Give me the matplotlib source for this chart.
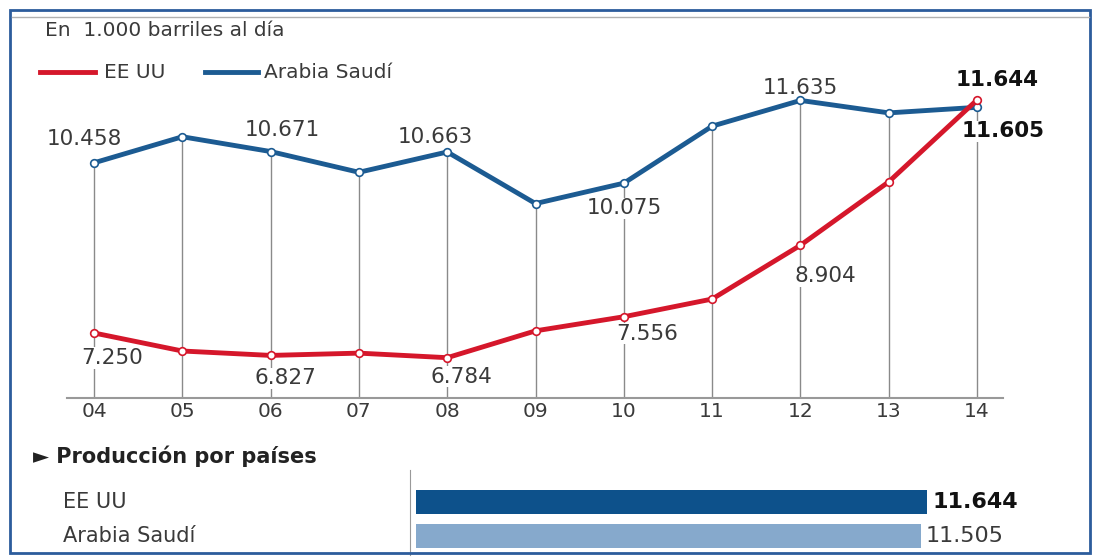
import matplotlib
matplotlib.use('Agg')
import matplotlib.pyplot as plt
from matplotlib.lines import Line2D
from matplotlib.patches import Rectangle

# Data (thousand barrels per day)
years = ['04', '05', '06', '07', '08', '09', '10', '11', '12', '13', '14']
saudi = [10.458, 10.95, 10.671, 10.28, 10.663, 9.69, 10.075, 11.15, 11.635, 11.40, 11.505]
usa = [7.250, 6.91, 6.827, 6.87, 6.784, 7.29, 7.556, 7.89, 8.904, 10.10, 11.644]
saudi_labels = {0: '10.458', 2: '10.671', 4: '10.663', 6: '10.075', 8: '11.635', 10: '11.605'}
usa_labels = {0: '7.250', 2: '6.827', 4: '6.784', 6: '7.556', 8: '8.904', 10: '11.644'}
countries = ['EE UU', 'Arabia Saudí']
country_values = [11.644, 11.505]
country_labels = ['11.644', '11.505']

# label offsets in pixels (dx, dy) from the point
saudi_off = {0: (-10, 24), 2: (12, 22), 4: (-12, 15), 6: (0, -25), 8: (0, 12), 10: (26, -24)}
usa_off = {0: (18, -25), 2: (15, -23), 4: (14, -19), 6: (23, -17), 8: (25, -31), 10: (20, 20)}

W, H = 1093, 560
RED = '#d5172b'
BLUE = '#1c5b92'
TXT = '#3a3a3a'
plt.rcParams['font.family'] = ['DejaVu Sans']


def fx(px):
    return px / W


def fy(py):
    return 1 - py / H


fig = plt.figure(figsize=(W / 100, H / 100), dpi=100)

# frame
fig.patches.append(Rectangle((fx(10), fy(553)), fx(1090) - fx(10), fy(10) - fy(553),
                             transform=fig.transFigure, fill=False, edgecolor='#2c5c9c', lw=2))
fig.lines.append(Line2D([fx(12), fx(1089)], [fy(17), fy(17)], transform=fig.transFigure,
                        color='#b0b0b0', lw=1))

# header + legend
fig.text(fx(45), fy(31), 'En  1.000 barriles al día', fontsize=14.5, color=TXT, va='center')
fig.lines.append(Line2D([fx(40), fx(95)], [fy(72), fy(72)], transform=fig.transFigure, color=RED, lw=3.5))
fig.text(fx(104), fy(72), 'EE UU', fontsize=14.5, color=TXT, va='center')
fig.lines.append(Line2D([fx(205), fx(258)], [fy(72), fy(72)], transform=fig.transFigure, color=BLUE, lw=3.5))
fig.text(fx(264), fy(72), 'Arabia Saudí', fontsize=14.5, color=TXT, va='center')

# line chart
ax = fig.add_axes([fx(67), fy(398), fx(1003) - fx(67), fy(80) - fy(398)])
x = list(range(len(years)))
ax.set_xlim(-0.306, 10.294)
ax.set_ylim(6.024, 12.02)
for i in x:
    ax.plot([i, i], [6.024, max(saudi[i], usa[i])], color='#8a8a8a', lw=1, zorder=1)
ax.plot(x, saudi, color=BLUE, lw=3.5, zorder=3, solid_capstyle='round',
        marker='o', ms=5.5, mfc='white', mec=BLUE, mew=1.2)
ax.plot(x, usa, color=RED, lw=3.5, zorder=4, solid_capstyle='round',
        marker='o', ms=5.5, mfc='white', mec=RED, mew=1.2)

box = dict(facecolor='white', edgecolor='none', pad=0.5)
for series, labels, offs in [(saudi, saudi_labels, saudi_off), (usa, usa_labels, usa_off)]:
    for i, s in labels.items():
        bold = i == 10
        ax.annotate(s, (i, series[i]), xytext=offs[i], textcoords='offset pixels',
                    ha='center', va='center', fontsize=15.5, color='#111' if bold else TXT,
                    fontweight='bold' if bold else 'normal',
                    bbox=None if (bold and series is usa) else box, zorder=2)

for sp in ['top', 'right', 'left']:
    ax.spines[sp].set_visible(False)
ax.spines['bottom'].set_color('#999999')
ax.spines['bottom'].set_linewidth(1.5)
ax.set_yticks([])
ax.set_xticks(x)
ax.set_xticklabels(years, fontsize=14.5, color=TXT)
ax.tick_params(axis='x', length=0, pad=3)

# bottom section
fig.text(fx(33), fy(456), '► Producción por países', fontsize=15, fontweight='bold',
         color='#222', va='center')

ax2 = fig.add_axes([fx(416), fy(555), fx(1016) - fx(416), fy(470) - fy(555)])
ax2.barh([0, 1], country_values, height=0.72, color=['#0d518b', '#86a9cc'])
ax2.set_xlim(0, 13.67)
ax2.set_ylim(1.56, -0.94)
for sp in ['top', 'right', 'bottom']:
    ax2.spines[sp].set_visible(False)
ax2.spines['left'].set_position(('outward', 4))
ax2.spines['left'].set_color('#999999')
ax2.set_xticks([])
ax2.set_yticks([])
for i, (c, v, lab) in enumerate(zip(countries, country_values, country_labels)):
    ax2.annotate(c, (0, i), xycoords=('figure fraction', 'data'), xytext=(63, 0),
                 textcoords='offset pixels', ha='left', va='center', fontsize=15, color=TXT)
    ax2.annotate(lab, (v, i), xytext=(5, 0), textcoords='offset pixels', ha='left', va='center',
                 fontsize=16, color='#111' if i == 0 else TXT,
                 fontweight='bold' if i == 0 else 'normal')

fig.savefig('out.png', dpi=100)
